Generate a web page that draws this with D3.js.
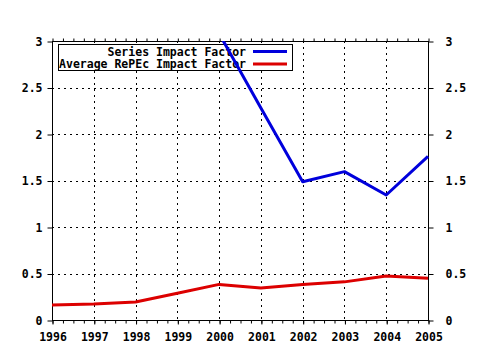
<!DOCTYPE html>
<html><head><meta charset="utf-8">
<script src="https://cdn.jsdelivr.net/npm/d3@7"></script>
<style>
html,body{margin:0;padding:0;background:#fff;}
text{font-family:"DejaVu Sans Mono","Liberation Mono",monospace;font-weight:bold;font-size:11.5px;fill:#000;}
</style></head><body>
<svg id="c" width="480" height="350"></svg>
<script>
const years = [1996,1997,1998,1999,2000,2001,2002,2003,2004,2005];
const seriesIF = [null,null,null,null,3.08,2.28,1.487,1.595,1.344,1.76];
const avgRePEc = [0.161,0.172,0.194,0.287,0.383,0.344,0.383,0.41,0.473,0.448];
const yTicks = [0,0.5,1,1.5,2,2.5,3];
const seriesNames = ["Series Impact Factor","Average RePEc Impact Factor"];
const colors = ["#0000dc","#dc0000"];

const L=52,R=428,T=41,B=320;
const svg=d3.select("#c");
const x=d3.scaleLinear().domain([1996,2005]).range([L,R]);
const y=d3.scaleLinear().domain([0,3]).range([B,T]);

// grid
const g=svg.append("g");
g.selectAll("line.gx").data(years.slice(1,-1)).join("line")
 .attr("x1",d=>Math.round(x(d))+0.5).attr("x2",d=>Math.round(x(d))+0.5)
 .attr("y1",T).attr("y2",B).attr("stroke","#000").attr("stroke-dasharray","2,4");
g.selectAll("line.gy").data(yTicks.slice(1,-1)).join("line")
 .attr("y1",d=>Math.round(y(d))+0.5).attr("y2",d=>Math.round(y(d))+0.5)
 .attr("x1",L).attr("x2",R).attr("stroke","#000").attr("stroke-dasharray","2,4");

// minor x ticks
const minor=d3.range(1996,2005.001,0.25);
function axisStyle(sel){sel.select(".domain").remove();sel.selectAll(".tick line").attr("stroke","#000");sel.selectAll("text").attr("fill","#000");}
svg.append("g").attr("transform",`translate(0.5,${B+0.5})`)
 .call(d3.axisBottom(x).tickValues(minor).tickSize(3).tickFormat("")).call(axisStyle);
svg.append("g").attr("transform",`translate(0.5,${T+0.5})`)
 .call(d3.axisTop(x).tickValues(minor).tickSize(3).tickFormat("")).call(axisStyle);
svg.append("g").attr("transform",`translate(0.5,${B+0.5})`)
 .call(d3.axisBottom(x).tickValues(years).tickSize(4).tickPadding(8).tickFormat(d3.format("d"))).call(axisStyle);
svg.append("g").attr("transform",`translate(${L+0.5},0.5)`)
 .call(d3.axisLeft(y).tickValues(yTicks).tickSize(5).tickPadding(5).tickFormat(d=>String(d))).call(axisStyle);
svg.append("g").attr("transform",`translate(${R+0.5},0.5)`)
 .call(d3.axisRight(y).tickValues(yTicks).tickSize(5).tickPadding(12).tickFormat(d=>String(d))).call(axisStyle);

// frame
svg.append("rect").attr("x",L+0.5).attr("y",T+0.5).attr("width",R-L).attr("height",B-T)
 .attr("fill","none").attr("stroke","#000");

// legend (drawn below the data lines)
const lg=svg.append("g");
lg.append("rect").attr("x",58.5).attr("y",44.5).attr("width",234).attr("height",26)
 .attr("fill","#fff").attr("stroke","#000");
seriesNames.forEach((n,i)=>{
  const cy=51.5+i*12.5;
  lg.append("text").attr("x",246).attr("y",cy).attr("dy","0.35em").attr("text-anchor","end").text(n);
  lg.append("line").attr("x1",253).attr("x2",287).attr("y1",cy).attr("y2",cy)
   .attr("stroke",colors[i]).attr("stroke-width",3);
});

// clip
svg.append("clipPath").attr("id","clip").append("rect").attr("x",L).attr("y",T).attr("width",R-L+1).attr("height",B-T+1);

const line=d3.line().defined(d=>d[1]!=null).x(d=>x(d[0])).y(d=>y(d[1]));
const series=[seriesIF,avgRePEc];
series.forEach((s,i)=>{
  svg.append("path").attr("clip-path","url(#clip)")
   .attr("d",line(years.map((yr,j)=>[yr,s[j]])))
   .attr("fill","none").attr("stroke",colors[i]).attr("stroke-width",3).attr("stroke-linejoin","round");
});
</script>
</body></html>
